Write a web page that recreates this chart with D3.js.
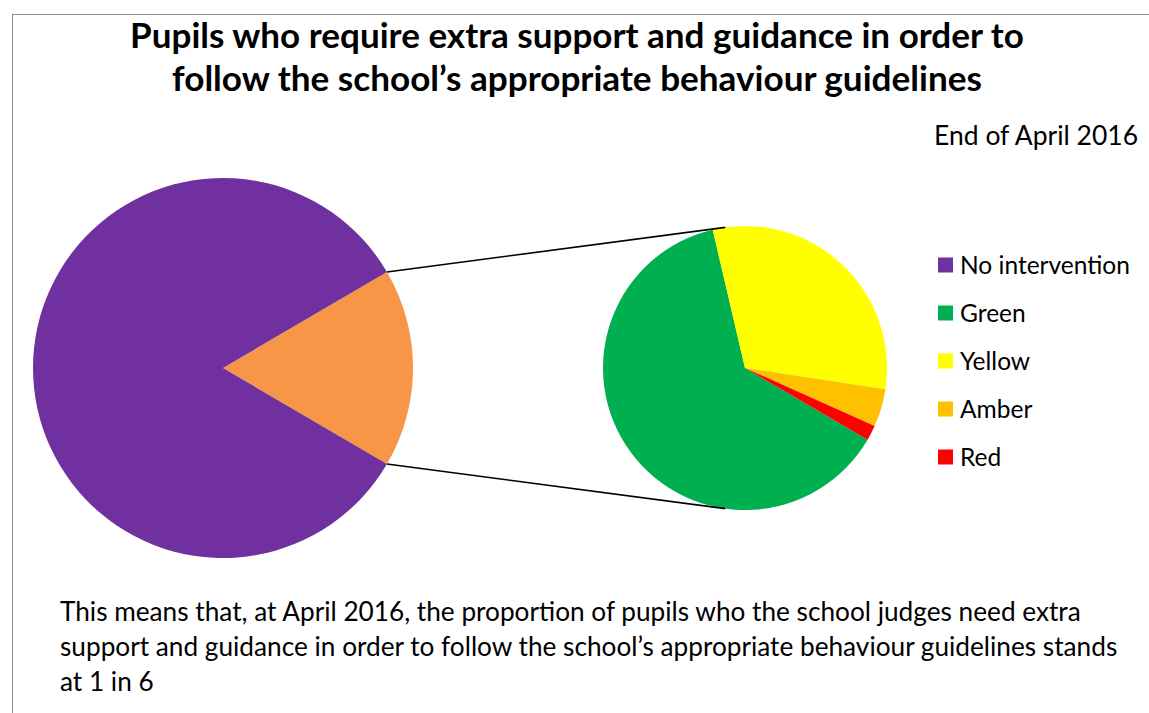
<!DOCTYPE html>
<html>
<head>
<meta charset="utf-8">
<script src="https://cdn.jsdelivr.net/npm/d3@7"></script>
<style>
  html, body { margin: 0; padding: 0; background: #ffffff; }
  svg { display: block; }
</style>
</head>
<body>
<svg id="chart" width="1149" height="713"></svg>
<script>
// ---- Data ----
const titleLines = [
  "Pupils who require extra support and guidance in order to",
  "follow the school\u2019s appropriate behaviour guidelines"
];
const subtitle = "End of April 2016";
const mainCategory = "No intervention";
const mainValue = 572;                       // pupils needing no intervention
const splitCategories = ["Green", "Yellow", "Amber", "Red"];
const splitValues = [73, 36, 5, 2];          // pupils in each support level
const legendLabels = ["No intervention", "Green", "Yellow", "Amber", "Red"];
const noteLines = [
  "This means that, at April 2016, the proportion of pupils who the school judges need extra",
  "support and guidance in order to follow the school\u2019s appropriate behaviour guidelines stands",
  "at 1 in 6"
];

// ---- Styling ----
const colorOf = {
  "No intervention": "#7030A0",
  "Other": "#F79646",
  "Green": "#00B050",
  "Yellow": "#FFFF00",
  "Amber": "#FFC000",
  "Red": "#FF0000"
};
const FONT = "Lato, 'Open Sans', sans-serif";

const svg = d3.select("#chart");

// Chart frame (only top and left edges fall inside the view)
svg.append("rect")
  .attr("x", 12.5).attr("y", 14.5)
  .attr("width", 1200).attr("height", 760)
  .attr("fill", "none").attr("stroke", "#8c8c8c").attr("stroke-width", 1);

// Scale a text element's font size so it spans the given width
function fitWidth(sel, target) {
  const w = sel.node().getComputedTextLength();
  const fs = parseFloat(sel.attr("font-size"));
  sel.attr("font-size", fs * target / w);
  return fs * target / w;
}

// ---- Title ----
const titleBaselines = [48, 91];
const titleWidths = [894, 810];
titleLines.forEach((t, i) => {
  const el = svg.append("text")
    .attr("x", 577).attr("y", titleBaselines[i])
    .attr("text-anchor", "middle")
    .attr("font-family", FONT).attr("font-weight", "bold")
    .attr("font-size", 30).attr("fill", "#000")
    .text(t);
  fitWidth(el, titleWidths[i]);
});

const sub = svg.append("text")
  .attr("x", 1138).attr("y", 145)
  .attr("text-anchor", "end")
  .attr("font-family", FONT).attr("font-size", 24).attr("fill", "#000")
  .text(subtitle);
fitWidth(sub, 204);

// ---- Primary pie ----
const otherTotal = d3.sum(splitValues);
const mainData = [
  { name: "Other", value: otherTotal },
  { name: mainCategory, value: mainValue }
];
const mainCx = 223, mainCy = 368, mainR = 190;
const otherAngle = 2 * Math.PI * otherTotal / (otherTotal + mainValue);
const mainPie = d3.pie().sort(null).value(d => d.value)
  .startAngle(Math.PI / 2 - otherAngle / 2)
  .endAngle(Math.PI / 2 - otherAngle / 2 + 2 * Math.PI);
const mainArc = d3.arc().innerRadius(0).outerRadius(mainR);

svg.append("g").attr("transform", `translate(${mainCx},${mainCy})`)
  .selectAll("path").data(mainPie(mainData)).join("path")
  .attr("d", mainArc)
  .attr("fill", d => colorOf[d.data.name]);

// ---- Secondary pie (breakdown of the "Other" slice) ----
const splitData = splitCategories.map((c, i) => ({ name: c, value: splitValues[i] }));
const subCx = 745, subCy = 368, subR = 142;
const subStart = 120.3 * Math.PI / 180;
const subPie = d3.pie().sort(null).value(d => d.value)
  .startAngle(subStart).endAngle(subStart + 2 * Math.PI);
const subArc = d3.arc().innerRadius(0).outerRadius(subR);

svg.append("g").attr("transform", `translate(${subCx},${subCy})`)
  .selectAll("path").data(subPie(splitData)).join("path")
  .attr("d", subArc)
  .attr("fill", d => colorOf[d.data.name]);

// ---- Connector lines ----
const polar = (cx, cy, r, a) => [cx + r * Math.sin(a), cy - r * Math.cos(a)];
const connAngle = 8 * Math.PI / 180;
const connectors = [
  [polar(mainCx, mainCy, mainR, Math.PI / 2 - otherAngle / 2), polar(subCx, subCy, subR, -connAngle)],
  [polar(mainCx, mainCy, mainR, Math.PI / 2 + otherAngle / 2), polar(subCx, subCy, subR, Math.PI + connAngle)]
];
svg.append("g").selectAll("line").data(connectors).join("line")
  .attr("x1", d => d[0][0]).attr("y1", d => d[0][1])
  .attr("x2", d => d[1][0]).attr("y2", d => d[1][1])
  .attr("stroke", "#000").attr("stroke-width", 1.6);

// ---- Legend ----
const legendY = d3.scalePoint().domain(legendLabels).range([265, 457]);
const legend = svg.append("g");
const rows = legend.selectAll("g").data(legendLabels).join("g")
  .attr("transform", d => `translate(938,${legendY(d)})`);
rows.append("rect")
  .attr("x", 0).attr("y", -7.5).attr("width", 15).attr("height", 15)
  .attr("fill", d => colorOf[d]);
const legendText = rows.append("text")
  .attr("x", 22).attr("y", 0).attr("dy", "0.36em")
  .attr("font-family", FONT).attr("font-size", 23).attr("fill", "#000")
  .text(d => d);
const lfs = fitWidth(d3.select(legendText.nodes()[0]), 170);
legendText.attr("font-size", lfs);

// ---- Note below the chart ----
const noteBaselines = [621, 656, 691];
const notes = svg.append("g").selectAll("text").data(noteLines).join("text")
  .attr("x", 60).attr("y", (d, i) => noteBaselines[i])
  .attr("font-family", FONT).attr("font-size", 23).attr("fill", "#000")
  .text(d => d);
const nfs = fitWidth(d3.select(notes.nodes()[0]), 1021);
notes.attr("font-size", nfs);
</script>
</body>
</html>
